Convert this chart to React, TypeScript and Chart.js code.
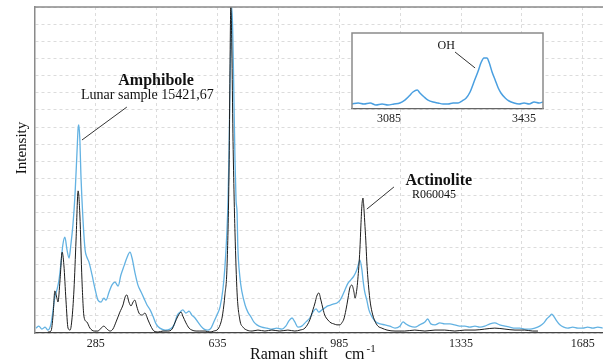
import React, { useEffect, useRef } from "react";
import { Chart, registerables } from "chart.js";
Chart.register(...registerables);

// Actinolite R060045 (black)
const actinoliteWn = [147, 156, 162, 167, 173, 176, 182, 188, 193, 199, 205, 211, 216, 222, 228, 234, 239, 245, 251, 259, 268, 280, 291, 300, 308, 317, 326, 334, 343, 354, 363, 369, 374, 380, 386, 392, 397, 403, 409, 418, 426, 435, 443, 452, 464, 478, 492, 504, 512, 521, 530, 535, 544, 553, 561, 573, 584, 599, 613, 624, 636, 645, 650, 656, 662, 668, 670, 673, 676, 679, 682, 685, 691, 699, 708, 719, 734, 751, 771, 791, 814, 837, 857, 872, 886, 900, 909, 915, 920, 926, 932, 938, 943, 952, 961, 969, 978, 987, 992, 998, 1004, 1010, 1015, 1021, 1027, 1030, 1035, 1038, 1044, 1047, 1050, 1053, 1055, 1058, 1061, 1064, 1067, 1073, 1079, 1087, 1096, 1107, 1122, 1145, 1173, 1202, 1231, 1260, 1288, 1317, 1346, 1375, 1403, 1432, 1461, 1490, 1518, 1541, 1556];
const actinoliteI = [0.3, 0.6, 5.5, 12.9, 10.7, 9.5, 16.3, 24.8, 20.9, 10.1, 1.5, 0.9, 4.0, 13.2, 28.5, 43.6, 36.2, 16.3, 4.9, 3.4, 1.5, 0.6, 0.6, 1.5, 2.1, 1.2, 0.6, 1.2, 3.4, 6.4, 8.6, 11.0, 11.7, 9.5, 8.3, 9.5, 10.1, 8.0, 6.1, 5.5, 6.1, 4.0, 2.1, 0.6, 0.3, 0.6, 0.6, 1.2, 3.1, 5.2, 6.4, 5.2, 3.1, 1.5, 0.9, 0.6, 0.6, 0.6, 0.3, 0.6, 1.2, 3.4, 6.1, 11.7, 20.2, 50.9, 74.5, 100, 86.8, 61.3, 43.9, 30.7, 12.3, 4.0, 1.8, 0.9, 0.6, 0.9, 0.6, 0.9, 0.6, 0.9, 0.6, 0.9, 1.5, 4.0, 7.1, 9.2, 11.3, 12.3, 10.1, 7.4, 5.5, 4.0, 3.1, 2.8, 2.5, 2.5, 3.1, 4.3, 7.1, 10.7, 13.8, 14.7, 12.6, 10.7, 13.2, 16.3, 25.5, 33.1, 39.3, 41.4, 39.3, 34.0, 28.5, 21.8, 16.9, 10.1, 6.4, 3.7, 2.1, 1.5, 0.9, 0.6, 0.6, 0.9, 0.6, 0.9, 0.9, 0.6, 0.9, 0.9, 1.2, 1.5, 1.2, 0.9, 0.9, 0.6, 0.6];

// Amphibole, lunar sample 15421,67 (blue)
const lunarWn = [113, 121, 130, 139, 147, 156, 162, 167, 173, 179, 185, 190, 196, 202, 208, 213, 219, 225, 231, 234, 236, 239, 242, 248, 254, 259, 265, 274, 282, 291, 300, 308, 314, 323, 331, 340, 349, 357, 366, 374, 383, 389, 397, 406, 415, 423, 432, 441, 449, 458, 469, 484, 498, 510, 518, 527, 535, 544, 553, 561, 570, 578, 587, 596, 607, 616, 624, 633, 642, 650, 656, 662, 665, 668, 670, 673, 676, 679, 682, 685, 688, 691, 693, 699, 705, 714, 722, 731, 739, 748, 762, 777, 791, 805, 820, 831, 840, 849, 857, 866, 877, 889, 900, 909, 918, 926, 935, 943, 952, 961, 969, 978, 987, 992, 1001, 1010, 1018, 1027, 1035, 1041, 1044, 1050, 1053, 1058, 1064, 1070, 1079, 1090, 1102, 1116, 1130, 1145, 1159, 1168, 1176, 1188, 1202, 1216, 1231, 1239, 1248, 1260, 1274, 1288, 1303, 1317, 1331, 1346, 1360, 1375, 1389, 1403, 1418, 1432, 1446, 1461, 1475, 1490, 1504, 1518, 1533, 1547, 1561, 1573, 1581, 1590, 1596, 1601, 1610, 1619, 1630, 1642, 1656, 1671, 1685, 1699, 1714, 1728, 1742];
const lunarI = [1.5, 2.1, 1.2, 1.8, 0.9, 2.8, 7.1, 11.0, 13.2, 16.3, 21.8, 27.0, 29.4, 25.5, 23.0, 27.0, 33.1, 42.3, 56.1, 62.9, 63.8, 59.2, 48.5, 34.7, 25.5, 23.3, 21.8, 17.8, 13.8, 10.1, 9.5, 10.7, 10.1, 12.6, 14.7, 15.6, 14.4, 17.8, 20.6, 23.0, 24.8, 23.0, 18.7, 14.7, 12.6, 10.7, 8.6, 7.1, 5.2, 2.8, 1.5, 0.9, 1.2, 2.5, 5.2, 6.4, 7.1, 6.1, 6.7, 5.5, 4.6, 3.4, 2.1, 1.2, 0.9, 1.5, 3.4, 5.5, 8.0, 13.2, 20.2, 31.6, 40.8, 56.1, 71.5, 89.9, 100, 89.9, 71.5, 53.1, 40.8, 36.8, 27.0, 17.2, 12.6, 8.6, 6.4, 4.9, 3.4, 2.5, 1.8, 1.5, 1.2, 1.5, 1.2, 2.1, 3.7, 4.6, 3.4, 1.8, 2.1, 3.4, 4.6, 6.4, 7.4, 6.4, 7.1, 7.7, 8.3, 8.6, 8.9, 9.2, 10.1, 11.0, 13.2, 15.3, 16.3, 17.5, 19.3, 21.5, 22.4, 19.3, 16.3, 12.6, 10.1, 7.1, 4.9, 3.4, 2.8, 2.5, 2.1, 1.5, 2.1, 3.4, 2.8, 2.1, 1.8, 2.5, 3.4, 4.3, 2.8, 2.5, 3.1, 2.8, 2.8, 2.5, 2.1, 2.1, 1.8, 2.1, 1.8, 2.1, 2.8, 3.1, 2.5, 2.1, 1.8, 1.5, 1.5, 1.2, 1.2, 1.5, 2.1, 3.1, 4.3, 5.2, 5.8, 5.2, 3.7, 2.5, 1.8, 1.5, 1.8, 1.5, 1.5, 1.8, 1.5, 1.8, 1.5];

// Inset: OH stretching region (blue)
const ohWn = [2989, 3005, 3020, 3036, 3051, 3067, 3082, 3098, 3113, 3126, 3137, 3147, 3158, 3165, 3176, 3186, 3199, 3212, 3225, 3238, 3251, 3264, 3274, 3285, 3295, 3305, 3316, 3323, 3331, 3339, 3344, 3352, 3360, 3368, 3375, 3386, 3396, 3409, 3422, 3435, 3448, 3461, 3474, 3484];
const ohI = [6.6, 7.9, 6.6, 7.9, 5.3, 6.6, 5.3, 6.6, 7.9, 11.8, 17.1, 22.4, 25.0, 21.1, 15.8, 11.8, 9.2, 7.9, 6.6, 6.6, 7.9, 7.9, 10.5, 14.5, 22.4, 35.5, 50.0, 60.5, 67.1, 67.1, 61.8, 48.7, 38.2, 27.6, 21.1, 14.5, 10.5, 7.9, 6.6, 7.9, 6.6, 9.2, 7.9, 9.2];

const mainGridTicks = [285, 460, 635, 810, 985, 1160, 1335, 1510, 1685];
const mainTickLabels = [285, 635, 985, 1335, 1685];
const insetTickLabels = [3085, 3435];
const yGridCount = 19;

const SERIF = '"Liberation Serif", "DejaVu Serif", serif';
const BLACK_LINE = "#1c1c1c";
const BLUE_LINE = "#63b2e2";
const INSET_BLUE = "#4a9fe0";

const toPts = (xs: number[], ys: number[]) => xs.map((x, i) => ({ x, y: ys[i] }));

const mainAnnotations = {
  id: "mainAnnotations",
  afterDraw(chart: any) {
    const { ctx, scales, chartArea } = chart;
    const px = (v: number) => scales.x.getPixelForValue(v);
    const py = (v: number) => scales.y.getPixelForValue(v);
    ctx.save();
    // top border
    ctx.strokeStyle = "#8a8a8a";
    ctx.lineWidth = 1.5;
    ctx.beginPath();
    ctx.moveTo(chartArea.left, chartArea.top);
    ctx.lineTo(chartArea.right, chartArea.top);
    ctx.stroke();

    ctx.fillStyle = "#111";
    ctx.textAlign = "center";
    ctx.textBaseline = "alphabetic";
    ctx.font = `bold 16px ${SERIF}`;
    ctx.fillText("Amphibole", px(458), py(76.1));
    ctx.font = `14px ${SERIF}`;
    ctx.fillText("Lunar sample 15421,67", px(433), py(71.8));
    ctx.font = `bold 16px ${SERIF}`;
    ctx.fillText("Actinolite", px(1271), py(45.4));
    ctx.font = `12px ${SERIF}`;
    ctx.fillText("R060045", px(1257), py(41.4));

    ctx.strokeStyle = "#333";
    ctx.lineWidth = 1;
    ctx.beginPath();
    ctx.moveTo(px(374), py(69.3));
    ctx.lineTo(px(245), py(59.2));
    ctx.moveTo(px(1142), py(44.8));
    ctx.lineTo(px(1064), py(38.0));
    ctx.stroke();

    // axis titles
    ctx.font = `15px ${SERIF}`;
    ctx.save();
    ctx.translate(22, 148);
    ctx.rotate(-Math.PI / 2);
    ctx.textBaseline = "middle";
    ctx.fillText("Intensity", 0, 0);
    ctx.restore();

    ctx.textAlign = "left";
    ctx.font = `16px ${SERIF}`;
    ctx.fillText("Raman shift", 250, 359);
    ctx.fillText("cm", 345, 359);
    const w = ctx.measureText("cm").width;
    ctx.font = `11px ${SERIF}`;
    ctx.fillText("-1", 345 + w + 2, 352);
    ctx.restore();
  },
};

const insetDecor = {
  id: "insetDecor",
  beforeDraw(chart: any) {
    const { ctx, chartArea } = chart;
    ctx.save();
    ctx.fillStyle = "#fff";
    ctx.fillRect(chartArea.left, chartArea.top, chartArea.right - chartArea.left, chartArea.bottom - chartArea.top);
    ctx.restore();
  },
  afterDraw(chart: any) {
    const { ctx, chartArea, scales } = chart;
    const px = (v: number) => scales.x.getPixelForValue(v);
    const py = (v: number) => scales.y.getPixelForValue(v);
    ctx.save();
    ctx.strokeStyle = "#8a8a8a";
    ctx.lineWidth = 1.5;
    ctx.beginPath();
    ctx.moveTo(chartArea.left, chartArea.bottom);
    ctx.lineTo(chartArea.left, chartArea.top);
    ctx.lineTo(chartArea.right, chartArea.top);
    ctx.lineTo(chartArea.right, chartArea.bottom);
    ctx.stroke();
    ctx.fillStyle = "#111";
    ctx.font = `12px ${SERIF}`;
    ctx.textAlign = "center";
    ctx.fillText("OH", px(3233), py(79));
    ctx.strokeStyle = "#333";
    ctx.lineWidth = 1;
    ctx.beginPath();
    ctx.moveTo(px(3256), py(75));
    ctx.lineTo(px(3308), py(54));
    ctx.stroke();
    ctx.restore();
  },
};

export default function App() {
  const mainRef = useRef<HTMLCanvasElement>(null);
  const insetRef = useRef<HTMLCanvasElement>(null);

  useEffect(() => {
    const yTicks = Array.from({ length: yGridCount + 1 }, (_, i) => ({ value: (i * 100) / yGridCount }));
    const main = new Chart(mainRef.current!, {
      type: "line",
      data: {
        datasets: [
          { data: toPts(actinoliteWn, actinoliteI), borderColor: BLACK_LINE, borderWidth: 1, pointRadius: 0, cubicInterpolationMode: "monotone", fill: false },
          { data: toPts(lunarWn, lunarI), borderColor: BLUE_LINE, borderWidth: 1.3, pointRadius: 0, cubicInterpolationMode: "monotone", fill: false },
        ],
      },
      options: {
        animation: false,
        responsive: false,
        maintainAspectRatio: false,
        layout: { padding: { top: 7, right: 0, left: 0, bottom: 0 } },
        plugins: { legend: { display: false }, tooltip: { enabled: false } },
        scales: {
          x: {
            type: "linear",
            min: 110,
            max: 1743,
            afterBuildTicks: (s: any) => {
              s.ticks = mainGridTicks.map((v) => ({ value: v }));
            },
            afterFit: (s: any) => {
              s.height = 31;
            },
            ticks: {
              autoSkip: false,
              maxRotation: 0,
              padding: 4,
              color: "#222",
              font: { family: SERIF, size: 12 },
              callback: (v: any) => (mainTickLabels.includes(Number(v)) ? String(v) : ""),
            },
            grid: { color: "#dcdcdc", drawTicks: false, lineWidth: 1 },
            border: { color: "#444", width: 1.2, dash: [3, 3] },
          },
          y: {
            min: 0,
            max: 100,
            afterBuildTicks: (s: any) => {
              s.ticks = yTicks.map((t) => ({ ...t }));
            },
            afterFit: (s: any) => {
              s.width = 35;
            },
            ticks: { display: false },
            grid: { color: "#dcdcdc", drawTicks: false, lineWidth: 1 },
            border: { color: "#8a8a8a", width: 1.5, dash: [3, 3] },
          },
        },
      },
      plugins: [mainAnnotations],
    } as any);

    const inset = new Chart(insetRef.current!, {
      type: "line",
      data: {
        datasets: [
          { data: toPts(ohWn, ohI), borderColor: INSET_BLUE, borderWidth: 1.5, pointRadius: 0, cubicInterpolationMode: "monotone", fill: false },
        ],
      },
      options: {
        animation: false,
        responsive: false,
        maintainAspectRatio: false,
        layout: { padding: { top: 5, right: 12, left: 0, bottom: 0 } },
        plugins: { legend: { display: false }, tooltip: { enabled: false } },
        scales: {
          x: {
            type: "linear",
            min: 2989,
            max: 3484,
            afterBuildTicks: (s: any) => {
              s.ticks = insetTickLabels.map((v) => ({ value: v }));
            },
            afterFit: (s: any) => {
              s.height = 24;
            },
            ticks: {
              autoSkip: false,
              maxRotation: 0,
              padding: 3,
              color: "#222",
              font: { family: SERIF, size: 12 },
              callback: (v: any) => String(v),
            },
            grid: { display: false, drawTicks: false },
            border: { color: "#666", width: 1.2 },
          },
          y: {
            min: 0,
            max: 100,
            afterFit: (s: any) => {
              s.width = 7;
            },
            ticks: { display: false },
            grid: { display: false, drawTicks: false },
            border: { display: false },
          },
        },
      },
      plugins: [insetDecor],
    } as any);

    return () => {
      main.destroy();
      inset.destroy();
    };
  }, []);

  return (
    <div style={{ position: "fixed", left: 0, top: 0, width: 603, height: 364, background: "#fff" }}>
      <canvas ref={mainRef} width={603} height={364} style={{ position: "absolute", left: 0, top: 0, width: 603, height: 364 }} />
      <canvas ref={insetRef} width={210} height={105} style={{ position: "absolute", left: 345, top: 28, width: 210, height: 105 }} />
    </div>
  );
}
